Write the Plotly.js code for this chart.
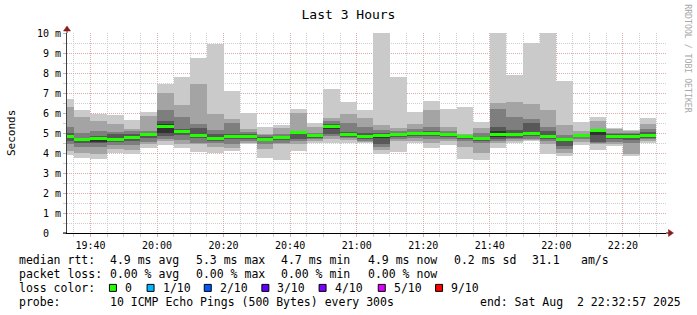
<!DOCTYPE html>
<html><head><meta charset="utf-8">
<script src="https://cdn.plot.ly/plotly-3.0.1.min.js"></script>
<style>html,body{margin:0;padding:0;background:#fff;overflow:hidden}#chart{width:697px;height:315px}</style>
</head><body><div id="chart"></div>
<script>
// 5-minute intervals (start times), 2 Aug 2025
const intervalStarts = ["19:30","19:35","19:40","19:45","19:50","19:55","20:00","20:05","20:10","20:15","20:20","20:25",
  "20:30","20:35","20:40","20:45","20:50","20:55","21:00","21:05","21:10","21:15","21:20","21:25",
  "21:30","21:35","21:40","21:45","21:50","21:55","22:00","22:05","22:10","22:15","22:20","22:25"];
// sorted ping RTTs (ms), ping 1 (fastest) .. ping 10 (slowest)
const p1  = [3.90,3.77,3.69,4.02,3.94,4.27,4.40,4.27,4.07,3.99,4.10,4.44,3.77,3.64,4.10,4.52,4.52,4.52,4.52,3.94,4.07,4.50,4.24,4.39,3.72,3.64,4.24,4.52,4.60,3.97,3.85,4.40,4.14,4.35,3.85,4.52];
const p2  = [4.10,4.02,3.97,4.20,4.15,4.44,4.60,4.47,4.44,4.30,4.27,4.52,4.19,4.44,4.44,4.60,4.69,4.65,4.55,4.15,4.60,4.60,4.52,4.60,4.30,4.02,4.52,4.60,4.67,4.44,4.02,4.55,4.44,4.44,3.97,4.60];
const p3  = [4.45,4.32,4.32,4.40,4.40,4.55,4.72,4.67,4.52,4.52,4.44,4.60,4.44,4.52,4.60,4.69,4.85,4.74,4.60,4.30,4.69,4.77,4.69,4.72,4.60,4.52,4.60,4.69,4.72,4.60,4.19,4.70,4.50,4.55,4.52,4.69];
const p4  = [4.60,4.52,4.50,4.55,4.60,4.75,4.84,4.90,4.77,4.60,4.69,4.69,4.60,4.64,4.69,4.77,4.97,4.80,4.69,4.45,4.80,4.85,4.85,4.82,4.72,4.60,4.72,4.77,4.85,4.72,4.35,4.80,4.55,4.69,4.64,4.77];
const p5  = [4.75,4.62,4.57,4.62,4.70,4.85,5.02,5.00,4.80,4.65,4.75,4.75,4.62,4.70,4.95,4.85,5.20,4.85,4.75,4.75,4.90,4.95,4.95,4.88,4.78,4.68,4.80,4.85,4.95,4.80,4.62,4.85,4.92,4.78,4.75,4.85];
const p6  = [4.92,4.72,4.75,4.72,4.82,4.97,5.44,5.12,4.92,4.77,4.90,4.88,4.72,4.80,5.05,4.93,5.40,4.95,4.85,4.95,4.96,5.03,5.05,4.96,4.85,4.77,5.10,4.97,5.05,4.90,4.70,4.90,5.10,4.88,4.86,4.95];
const p7  = [5.00,4.77,4.85,4.97,4.97,5.00,5.62,5.22,5.27,4.94,4.97,4.94,4.80,4.85,5.07,4.97,5.44,5.07,5.02,5.00,4.97,5.05,5.10,5.00,4.88,4.82,5.32,5.14,5.52,5.10,4.75,4.92,5.15,4.95,4.94,5.05];
const p8  = [5.32,5.02,5.10,5.07,5.10,5.10,6.17,5.80,5.47,5.17,5.50,5.05,4.89,4.97,5.10,5.02,5.60,5.52,5.30,5.17,5.10,5.19,5.32,5.10,4.90,5.02,6.22,5.82,5.69,5.32,4.90,4.97,5.22,5.02,5.02,5.22];
const p9  = [6.32,5.82,5.60,5.47,5.22,5.84,7.02,6.42,7.44,5.97,5.72,5.19,4.94,5.24,6.02,5.32,5.77,5.94,5.77,5.39,5.27,5.47,6.15,5.30,4.95,5.27,6.52,6.57,6.47,6.15,5.39,5.10,5.60,5.19,5.10,5.44];
const p10 = [6.72,6.17,5.94,5.89,5.67,6.07,7.47,7.82,8.77,9.44,7.10,6.00,5.32,5.42,6.22,5.52,7.19,6.57,6.17,10.5,7.82,6.07,6.60,6.22,6.32,5.57,10.5,7.89,9.49,10.5,7.60,5.57,5.82,5.27,5.17,5.77];
const median = [4.83,4.67,4.72,4.67,4.77,4.94,5.34,5.09,4.87,4.72,4.85,4.84,4.67,4.77,5.02,4.89,5.34,4.92,4.82,4.89,4.94,5.00,5.00,4.92,4.85,4.72,4.92,4.92,5.00,4.84,4.67,4.87,5.12,4.82,4.82,4.90];

const yTickVals = [0,1,2,3,4,5,6,7,8,9,10];
const yTickText = ["0\u00a0\u00a0","1 m","2 m","3 m","4 m","5 m","6 m","7 m","8 m","9 m","10 m"];
const lossLabels = ["0","1/10","2/10","3/10","4/10","5/10","9/10"];
const lossColors = ["#26ff00","#00b8ff","#0059ff","#5e00ff","#7e00ff","#dd00ff","#ff0000"];
const smokeGrays = ["#cacaca","#a4a4a4","#7e7e7e","#585858","#323232"];
const medianColor = "#22ff00";

const DAY = "2025-08-02 ";
const xStart = DAY + "19:32:57", xEnd = DAY + "22:32:57";
const xs = intervalStarts.map(t => DAY + t + ":00");
const P = [p1,p2,p3,p4,p5,p6,p7,p8,p9,p10];
const W = 300000;

const traces = [];
for (let i = 0; i < 5; i++) {
  const lo = P[i], hi = P[9 - i];
  traces.push({type:'bar', x: xs, base: lo, y: hi.map((v,k)=>v-lo[k]), width: W, offset: 0,
    marker:{color: smokeGrays[i], line:{width:0}}, hoverinfo:'skip', showlegend:false});
}
const half = 0.075;
traces.push({type:'bar', x: xs, base: median.map(m=>m-half), y: median.map(()=>2*half), width: W, offset: 0,
  marker:{color: medianColor, line:{width:0}}, hoverinfo:'skip', showlegend:false});

// pixel helpers for decorations
const PL=66.5, PR=666.5, PT=33.3, PB=233.3;
const px = x => (x-PL)/(PR-PL);
const py = y => (PB-y)/(PB-PT);
const MONO = 'DejaVu Sans Mono';

const ann = [];
function txt(x, y, s, size, opts) {
  ann.push(Object.assign({xref:'paper', yref:'paper', x: px(x), y: py(y), xanchor:'left', yanchor:'middle',
    text: s.replace(/ /g,'\u00a0'), showarrow:false, font:{family:MONO, size:size, color:'#000'}}, opts||{}));
}
const L1=260.5, L2=274.3, L3=288.2, L4=302;
txt(16.5, L1, 'median rtt:', 11.5);
txt(107.3, L1, '4.9 ms avg', 11.5);
txt(193.3, L1, '5.3 ms max', 11.5);
txt(279.3, L1, '4.7 ms min', 11.5);
txt(366, L1, '4.9 ms now', 11.5);
txt(451.7, L1, '0.2 ms sd', 11.5);
txt(530, L1, '31.1', 11.5);
txt(579.3, L1, 'am/s', 11.5);
txt(16.5, L2, 'packet loss:', 11.5);
txt(107.3, L2, '0.00 % avg', 11.5);
txt(193.3, L2, '0.00 % max', 11.5);
txt(279.3, L2, '0.00 % min', 11.5);
txt(366, L2, '0.00 % now', 11.5);
txt(16.5, L3, 'loss color:', 11.5);
const boxX = [109, 146.7, 204, 261.7, 319, 378.3, 435.7];
const shapes = [];
lossLabels.forEach((lab, i) => {
  shapes.push({type:'rect', xref:'paper', yref:'paper', x0: px(boxX[i]), x1: px(boxX[i]+7), y0: py(L3+3.5), y1: py(L3-3.5),
    fillcolor: lossColors[i], line:{color:'#000', width:1}});
  txt(boxX[i]+13.5, L3, lab, 11.5);
});
txt(16.5, L4, 'probe:', 11.5);
txt(107.3, L4, '10 ICMP Echo Pings (500 Bytes) every 300s', 11.5);
txt(478.3, L4, 'end: Sat Aug  2 22:32:57 2025', 11.5);

ann.push({xref:'paper', yref:'paper', x: px(10.5), y: py(133.3), xanchor:'center', yanchor:'middle', text:'Seconds',
  textangle:-90, showarrow:false, font:{family:MONO, size:11, color:'#000'}});
ann.push({xref:'paper', yref:'paper', x: px(689), y: py(59), xanchor:'center', yanchor:'middle', text:'RRDTOOL / TOBI OETIKER',
  textangle:90, showarrow:false, font:{family:MONO, size:8.2, color:'#a8a8a8'}});

// axis extensions & arrows
const ARROW = '#8b1a1a';
shapes.push({type:'line', xref:'paper', yref:'paper', x0:0, x1:0, y0:1, y1:py(29), line:{color:'#404040', width:1}});
shapes.push({type:'line', xref:'paper', yref:'paper', x0:1, x1:px(670), y0:0, y1:0, line:{color:'#000', width:1}});
shapes.push({type:'line', xref:'paper', yref:'paper', x0:px(62.5), x1:0, y0:0, y1:0, line:{color:'#000', width:1}});
shapes.push({type:'path', xref:'paper', yref:'paper', xsizemode:'pixel', ysizemode:'pixel', xanchor:0, yanchor:1,
  path:'M-3.5,2 L3.5,2 L0,7 Z', fillcolor:ARROW, line:{color:ARROW, width:0.5}});
shapes.push({type:'path', xref:'paper', yref:'paper', xsizemode:'pixel', ysizemode:'pixel', xanchor:px(669), yanchor:0,
  path:'M0,-3.5 L0,3.5 L5,0 Z', fillcolor:ARROW, line:{color:ARROW, width:0.5}});

const MAJ = '#dcaaaa', MIN = '#cdcdcd';
const layout = {
  width:697, height:315, margin:{l:PL, r:697-PR, t:PT, b:315-PB, pad:0},
  paper_bgcolor:'#fff', plot_bgcolor:'#fff', barmode:'overlay', bargap:0, showlegend:false,
  title:{text:'Last 3 Hours', font:{family:MONO, size:13, color:'#000'}, xref:'container', yref:'container',
    x:0.5, xanchor:'center', y:1-14/315, yanchor:'middle'},
  xaxis:{type:'date', range:[xStart, xEnd], tickformat:'%H:%M', tick0: DAY+'19:40:00', dtick:1200000,
    showgrid:true, gridcolor:MAJ, griddash:'1px,1px', gridwidth:1,
    minor:{dtick:W, tick0: DAY+'19:40:00', showgrid:true, gridcolor:MIN, griddash:'1px,1px', ticks:'outside', ticklen:3, tickcolor:MIN},
    ticks:'outside', ticklen:3, tickcolor:MAJ, showline:true, linecolor:'#000', linewidth:1, zeroline:false,
    tickfont:{family:MONO, size:10, color:'#000'}, fixedrange:true, layer:'above traces'},
  yaxis:{range:[0,10], tickmode:'array', tickvals:yTickVals, ticktext:yTickText,
    showgrid:true, gridcolor:MAJ, griddash:'1px,1px', gridwidth:1,
    minor:{dtick:0.5, tick0:0, showgrid:true, gridcolor:MIN, griddash:'1px,1px', ticks:'outside', ticklen:3, tickcolor:MIN},
    ticks:'outside', ticklen:3, tickcolor:MAJ, showline:true, linecolor:'#404040', linewidth:1, zeroline:false,
    tickfont:{family:MONO, size:10, color:'#000'}, fixedrange:true, layer:'above traces'},
  annotations: ann, shapes: shapes
};
Plotly.newPlot('chart', traces, layout, {staticPlot:true, displayModeBar:false});
</script></body></html>
